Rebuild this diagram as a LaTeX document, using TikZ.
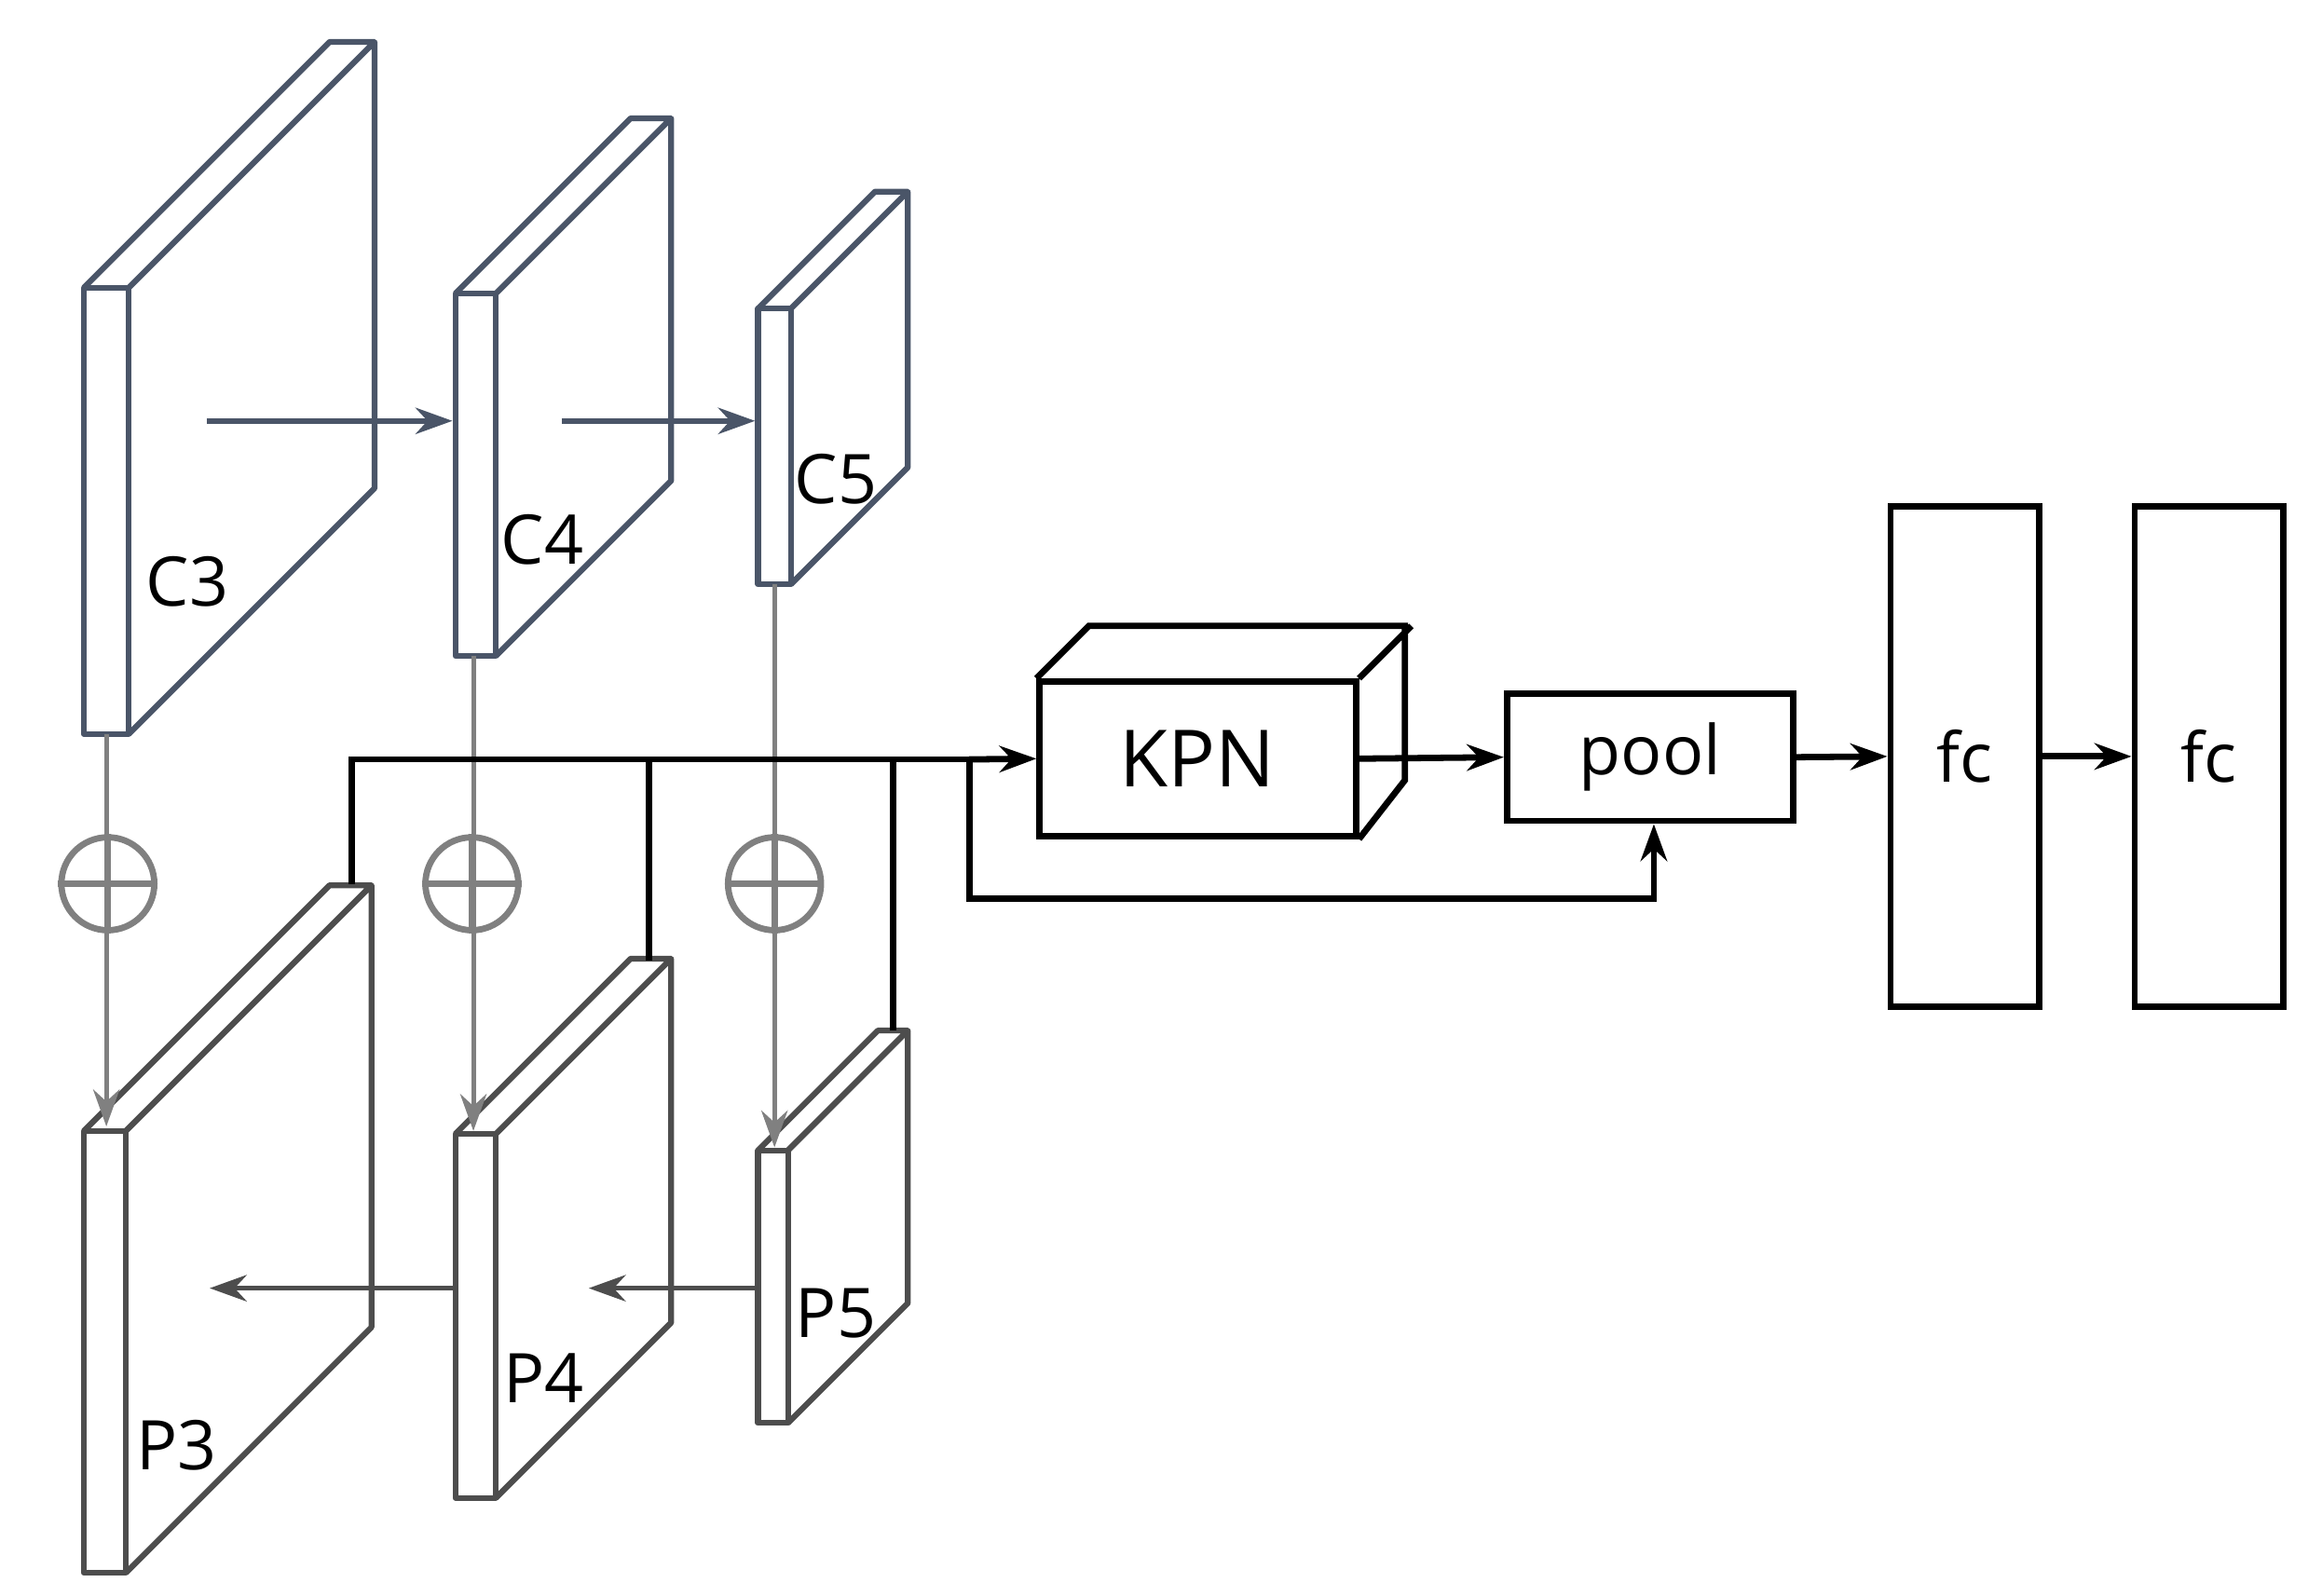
\documentclass[tikz,border=0pt]{standalone}
\usepackage{fontspec}
\setmainfont{Open Sans}
\usetikzlibrary{arrows.meta}
\definecolor{slate}{HTML}{4A5568}
\definecolor{dgray}{HTML}{4D4D4D}
% slab: x-left, x-right, y-top, y-bottom, depth offset, colour, name
\newcommand\myslab[7]{%
  \draw[#6,line width=1.1pt,line join=round] (#1,#3) rectangle (#2,#4);
  \draw[#6,line width=1.1pt,line join=round] (#1,#3) -- ++(#5,-#5) -- ++(#2-#1,0) -- (#2,#3)
     (#2+#5,#3-#5) -- (#2+#5,#4-#5) -- (#2,#4);
  \coordinate (#7-top) at ({(#1+#2)/2},#3);
  \coordinate (#7-bot) at ({(#1+#2)/2},#4);
}
\begin{document}
\begin{tikzpicture}[x=0.01cm,y=-0.01cm,
  arr/.style={-{Stealth[length=7pt,width=5pt]},line width=1pt},
  blk/.style={draw,line width=1.2pt},
  lab/.style={font=\fontsize{13}{15}\selectfont},
  circ/.style={circle,draw=gray,line width=1.2pt,minimum size=0.62cm,inner sep=0pt}]
\useasboundingbox (0,0) rectangle (1550,1065);
% backbone
\myslab{56}{86}{192}{490}{164}{slate}{c3}
\myslab{304}{331}{196}{438}{117}{slate}{c4}
\myslab{506}{528}{206}{390}{78}{slate}{c5}
\myslab{56}{84}{755}{1050}{164}{dgray}{p3}
\myslab{304}{331}{757}{1000}{117}{dgray}{p4}
\myslab{506}{526}{768}{950}{80}{dgray}{p5}
\node[lab] (lc3) at (125,388) {C3};
\node[lab] (lc4) at (362,360) {C4};
\node[lab] (lc5) at (558,320) {C5};
\node[lab] (lp3) at (118,965) {P3};
\node[lab] (lp4) at (363,920) {P4};
\node[lab] (lp5) at (558,877) {P5};
\coordinate (a1) at (138,281); \coordinate (a2) at (302,281);
\coordinate (a3) at (375,281); \coordinate (a4) at (504,281);
\draw[arr,slate] (a1) -- (a2);
\draw[arr,slate] (a3) -- (a4);
\coordinate (b1) at (304,860); \coordinate (b2) at (140,860);
\coordinate (b3) at (506,860); \coordinate (b4) at (393,860);
\draw[arr,dgray] (b1) -- (b2);
\draw[arr,dgray] (b3) -- (b4);
% lateral sums
\node[circ] (o3) at (72,590) {};
\node[circ] (o4) at (315,590) {};
\node[circ] (o5) at (517,590) {};
\foreach \o in {o3,o4,o5}{
  \draw[gray,line width=1.2pt] (\o.north) -- (\o.south) (\o.west) -- (\o.east);}
\draw[arr,gray,line width=0.9pt] (71,490) -- (71,752);
\draw[arr,gray,line width=0.9pt] (316,438) -- (316,755);
\draw[arr,gray,line width=0.9pt] (517,390) -- (517,766);
% head
\node[blk,minimum width=2.11cm,minimum height=1.03cm,font=\fontsize{15}{17}\selectfont] (kpn) at (799.5,506.5) {KPN};
\draw[line width=1.2pt,line join=miter] (kpn.north west) -- ++(35,-35) -- ++(211,0) -- ++(0,103) -- (kpn.south east)
  (kpn.north east) -- ++(35,-35);
\node[blk,minimum width=1.91cm,minimum height=0.85cm,font=\fontsize{13}{15}\selectfont] (pool) at (1101.5,505.5) {pool};
\node[blk,minimum width=0.99cm,minimum height=3.34cm,font=\fontsize{13}{15}\selectfont] (fc1) at (1311.5,505) {fc};
\node[blk,minimum width=0.99cm,minimum height=3.34cm,font=\fontsize{13}{15}\selectfont] (fc2) at (1474.5,505) {fc};
\coordinate (j3) at (235,590); \coordinate (j4) at (433,641); \coordinate (j5) at (596,688);
\coordinate (js) at (647,507);
\draw[line width=1.2pt] (j3) |- (js);
\draw[line width=1.2pt] (j4) -- (433,507);
\draw[line width=1.2pt] (j5) -- (596,507);
\draw[arr,line width=1.2pt] (js) -- (kpn.west);
\draw[arr,line width=1.2pt] (js) |- (1104,600) -- (pool.south -| 1104,0);
\draw[arr,line width=1.2pt] (kpn.east) -- (pool.west);
\draw[arr,line width=1.2pt] (pool.east) -- (fc1.west);
\draw[arr,line width=1.2pt] (fc1.east) -- (fc2.west);
\end{tikzpicture}
\end{document}
